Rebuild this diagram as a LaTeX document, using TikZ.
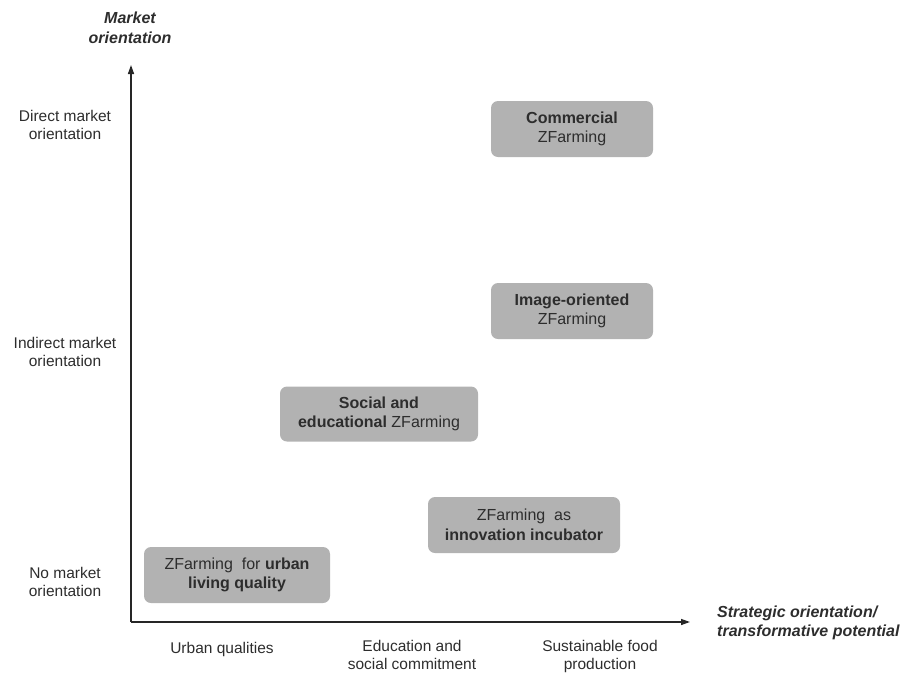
\documentclass[tikz,border=0pt]{standalone}
\usepackage{fontspec}
\setmainfont{Liberation Sans}
\usetikzlibrary{arrows.meta}
\definecolor{boxgray}{RGB}{178,178,178}
\definecolor{txt}{RGB}{45,45,45}
\begin{document}
\begin{tikzpicture}[x=1pt,y=-1pt,
  lbl/.style={font=\fontsize{15.5}{18.5}\selectfont, text=txt, align=center, inner sep=0pt},
  ttl/.style={font=\fontsize{16}{19.5}\selectfont\bfseries\itshape, text=txt, inner sep=0pt},
  zbox/.style={fill=boxgray, rounded corners=7pt, draw=none, font=\fontsize{16}{19.5}\selectfont, text=txt, align=center, inner sep=0pt},
  axis/.style={line width=1.4pt, draw=black!85, -{Triangle[length=9pt,width=6pt]}}]
\useasboundingbox (0,0) rectangle (905,678);
\coordinate (O) at (131,622);
\coordinate (Ytip) at (131,65);
\coordinate (Xtip) at (690,622);
\draw[axis] (O) -- (Ytip);
\draw[axis] (O) -- (Xtip);
% axis titles
\node[ttl, align=center] (ytitle) at (130,28) {Market\\orientation};
\node[ttl, align=left, anchor=west] (xtitle) at (717,623) {Strategic orientation/\\transformative potential};
% y labels
\node[lbl] (ydirect) at (65,125) {Direct market\\orientation};
\node[lbl] (yindirect) at (65,352) {Indirect market\\orientation};
\node[lbl] (yno) at (65,582) {No market\\orientation};
% x labels
\node[lbl] (xurban) at (222,649) {Urban qualities};
\node[lbl, anchor=north] (xedu) at (412,640) {Education and\\social commitment};
\node[lbl, anchor=north] (xsus) at (600,640) {Sustainable food\\production};
% boxes
\node[zbox, minimum width=162pt, minimum height=56pt] (commercial) at (572,129) {\textbf{Commercial}\\ZFarming};
\node[zbox, minimum width=162pt, minimum height=56pt] (image) at (572,311) {\textbf{Image-oriented}\\ZFarming};
\node[zbox, minimum width=198pt, minimum height=55pt] (social) at (379,414) {\textbf{Social and}\\\textbf{educational} ZFarming};
\node[zbox, minimum width=192pt, minimum height=56pt] (incub) at (524,525) {ZFarming\ \ as\\\textbf{innovation incubator}};
\node[zbox, minimum width=186pt, minimum height=56pt] (urban) at (237,575) {ZFarming\ \ for \textbf{urban}\\\textbf{living quality}};
\end{tikzpicture}
\end{document}
